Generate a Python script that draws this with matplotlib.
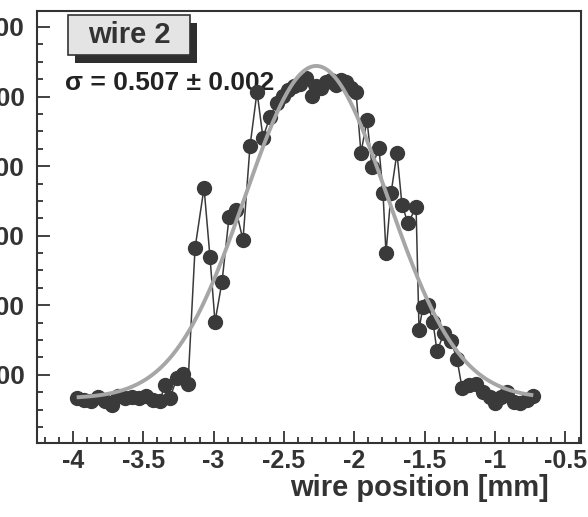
import numpy as np
import matplotlib
matplotlib.use('Agg')
import matplotlib.pyplot as plt
from matplotlib.patches import Rectangle
from matplotlib.ticker import MultipleLocator, FuncFormatter

plt.rcParams['font.family'] = ['Liberation Sans', 'DejaVu Sans']

# wire scan, wire 2
wire_pos = [-3.972, -3.922, -3.872, -3.822, -3.772, -3.723, -3.680, -3.630,
            -3.580, -3.531, -3.481, -3.431, -3.381, -3.346, -3.310, -3.260,
            -3.218, -3.182,
            -3.132, -3.068, -3.026, -2.990, -2.940, -2.890, -2.841, -2.791,
            -2.741, -2.691, -2.649, -2.599, -2.549, -2.506, -2.471,
            -2.428, -2.386, -2.343, -2.300, -2.272, -2.236, -2.201, -2.165,
            -2.129, -2.094, -2.058, -2.023, -1.987,
            -1.952, -1.909, -1.873, -1.824, -1.795, -1.774, -1.738, -1.696,
            -1.660, -1.617, -1.560, -1.539, -1.511, -1.475, -1.440, -1.411,
            -1.361, -1.312, -1.269, -1.233, -1.183, -1.134, -1.084, -1.034,
            -0.999, -0.956, -0.913, -0.863, -0.821, -0.771, -0.728]
counts = [167, 164, 163, 168, 163, 157, 170, 166,
          168, 167, 170, 164, 163, 186, 167, 196,
          201, 187,
          382, 469, 370, 276, 334, 427, 437, 394,
          529, 607, 541, 571, 591, 601, 609,
          615, 618, 627, 601, 615, 612, 621, 624,
          617, 624, 621, 612, 607,
          519, 566, 499, 526, 461, 375, 461, 519,
          444, 418, 441, 265, 298, 301, 276, 234,
          260, 249, 223, 181, 186, 187, 176, 168,
          160, 168, 176, 161, 160, 164, 170]

# gaussian + flat background fit
fit_mean = -2.27
fit_sigma = 0.507
fit_amp = 478
fit_bkg = 166
fit_range = (-3.96, -0.74)

fig = plt.figure(figsize=(5.88, 5.17), dpi=100)
ax = fig.add_axes([37 / 588, 1 - 443 / 517, 544 / 588, 432 / 517])

ink = '#333333'
ax.plot(wire_pos, counts, color='#3a3a3a', lw=1.1, marker='o', ms=10,
        zorder=2)
xf = np.linspace(fit_range[0], fit_range[1], 400)
yf = fit_bkg + fit_amp * np.exp(-0.5 * ((xf - fit_mean) / fit_sigma) ** 2)
ax.plot(xf, yf, color='#a6a6a6', lw=2.8, zorder=3)

ax.set_xlim(-4.256, -0.387)
ax.set_ylim(102, 723)

ax.xaxis.set_major_locator(MultipleLocator(0.5))
ax.xaxis.set_minor_locator(MultipleLocator(0.1))
ax.yaxis.set_major_locator(MultipleLocator(100))
ax.yaxis.set_minor_locator(MultipleLocator(25))
ax.xaxis.set_major_formatter(FuncFormatter(lambda v, p: f'{v:g}'))
ax.yaxis.set_major_formatter(FuncFormatter(lambda v, p: f'{v:g}'))

for s in ax.spines.values():
    s.set_color(ink)
    s.set_linewidth(1.5)
ax.tick_params(which='both', direction='in', top=False, right=False,
               colors=ink, width=1.3)
ax.tick_params(which='major', length=9)
ax.tick_params(which='minor', length=4.5)
ax.tick_params(axis='x', which='major', labelsize=18, pad=4)
ax.tick_params(axis='y', which='major', labelsize=19, pad=9)
for lab in ax.get_xticklabels() + ax.get_yticklabels():
    lab.set_fontweight('bold')

ax.set_xlabel('wire position [mm]', fontsize=21, fontweight='bold', color=ink,
              ha='right')
ax.xaxis.set_label_coords(0.94, -0.072)

# label box with drop shadow
bx, by, bw, bh = 0.057, 0.898, 0.224, 0.093
ax.add_patch(Rectangle((bx + 0.013, by - 0.019), bw, bh, transform=ax.transAxes,
                       facecolor='#2e2e2e', edgecolor='none', zorder=4,
                       clip_on=False))
ax.add_patch(Rectangle((bx, by), bw, bh, transform=ax.transAxes,
                       facecolor='#e4e4e4', edgecolor=ink, lw=1.2, zorder=5,
                       clip_on=False))
ax.text(bx + bw / 2, by + bh / 2, 'wire 2', transform=ax.transAxes,
        ha='center', va='center', fontsize=21, fontweight='bold', color=ink,
        zorder=6)

ax.text(0.051, 0.833, 'σ = 0.507 ± 0.002', transform=ax.transAxes,
        ha='left', va='center', fontsize=19, fontweight='bold', color='#222222',
        zorder=1)

fig.savefig('out.png', dpi=100)
